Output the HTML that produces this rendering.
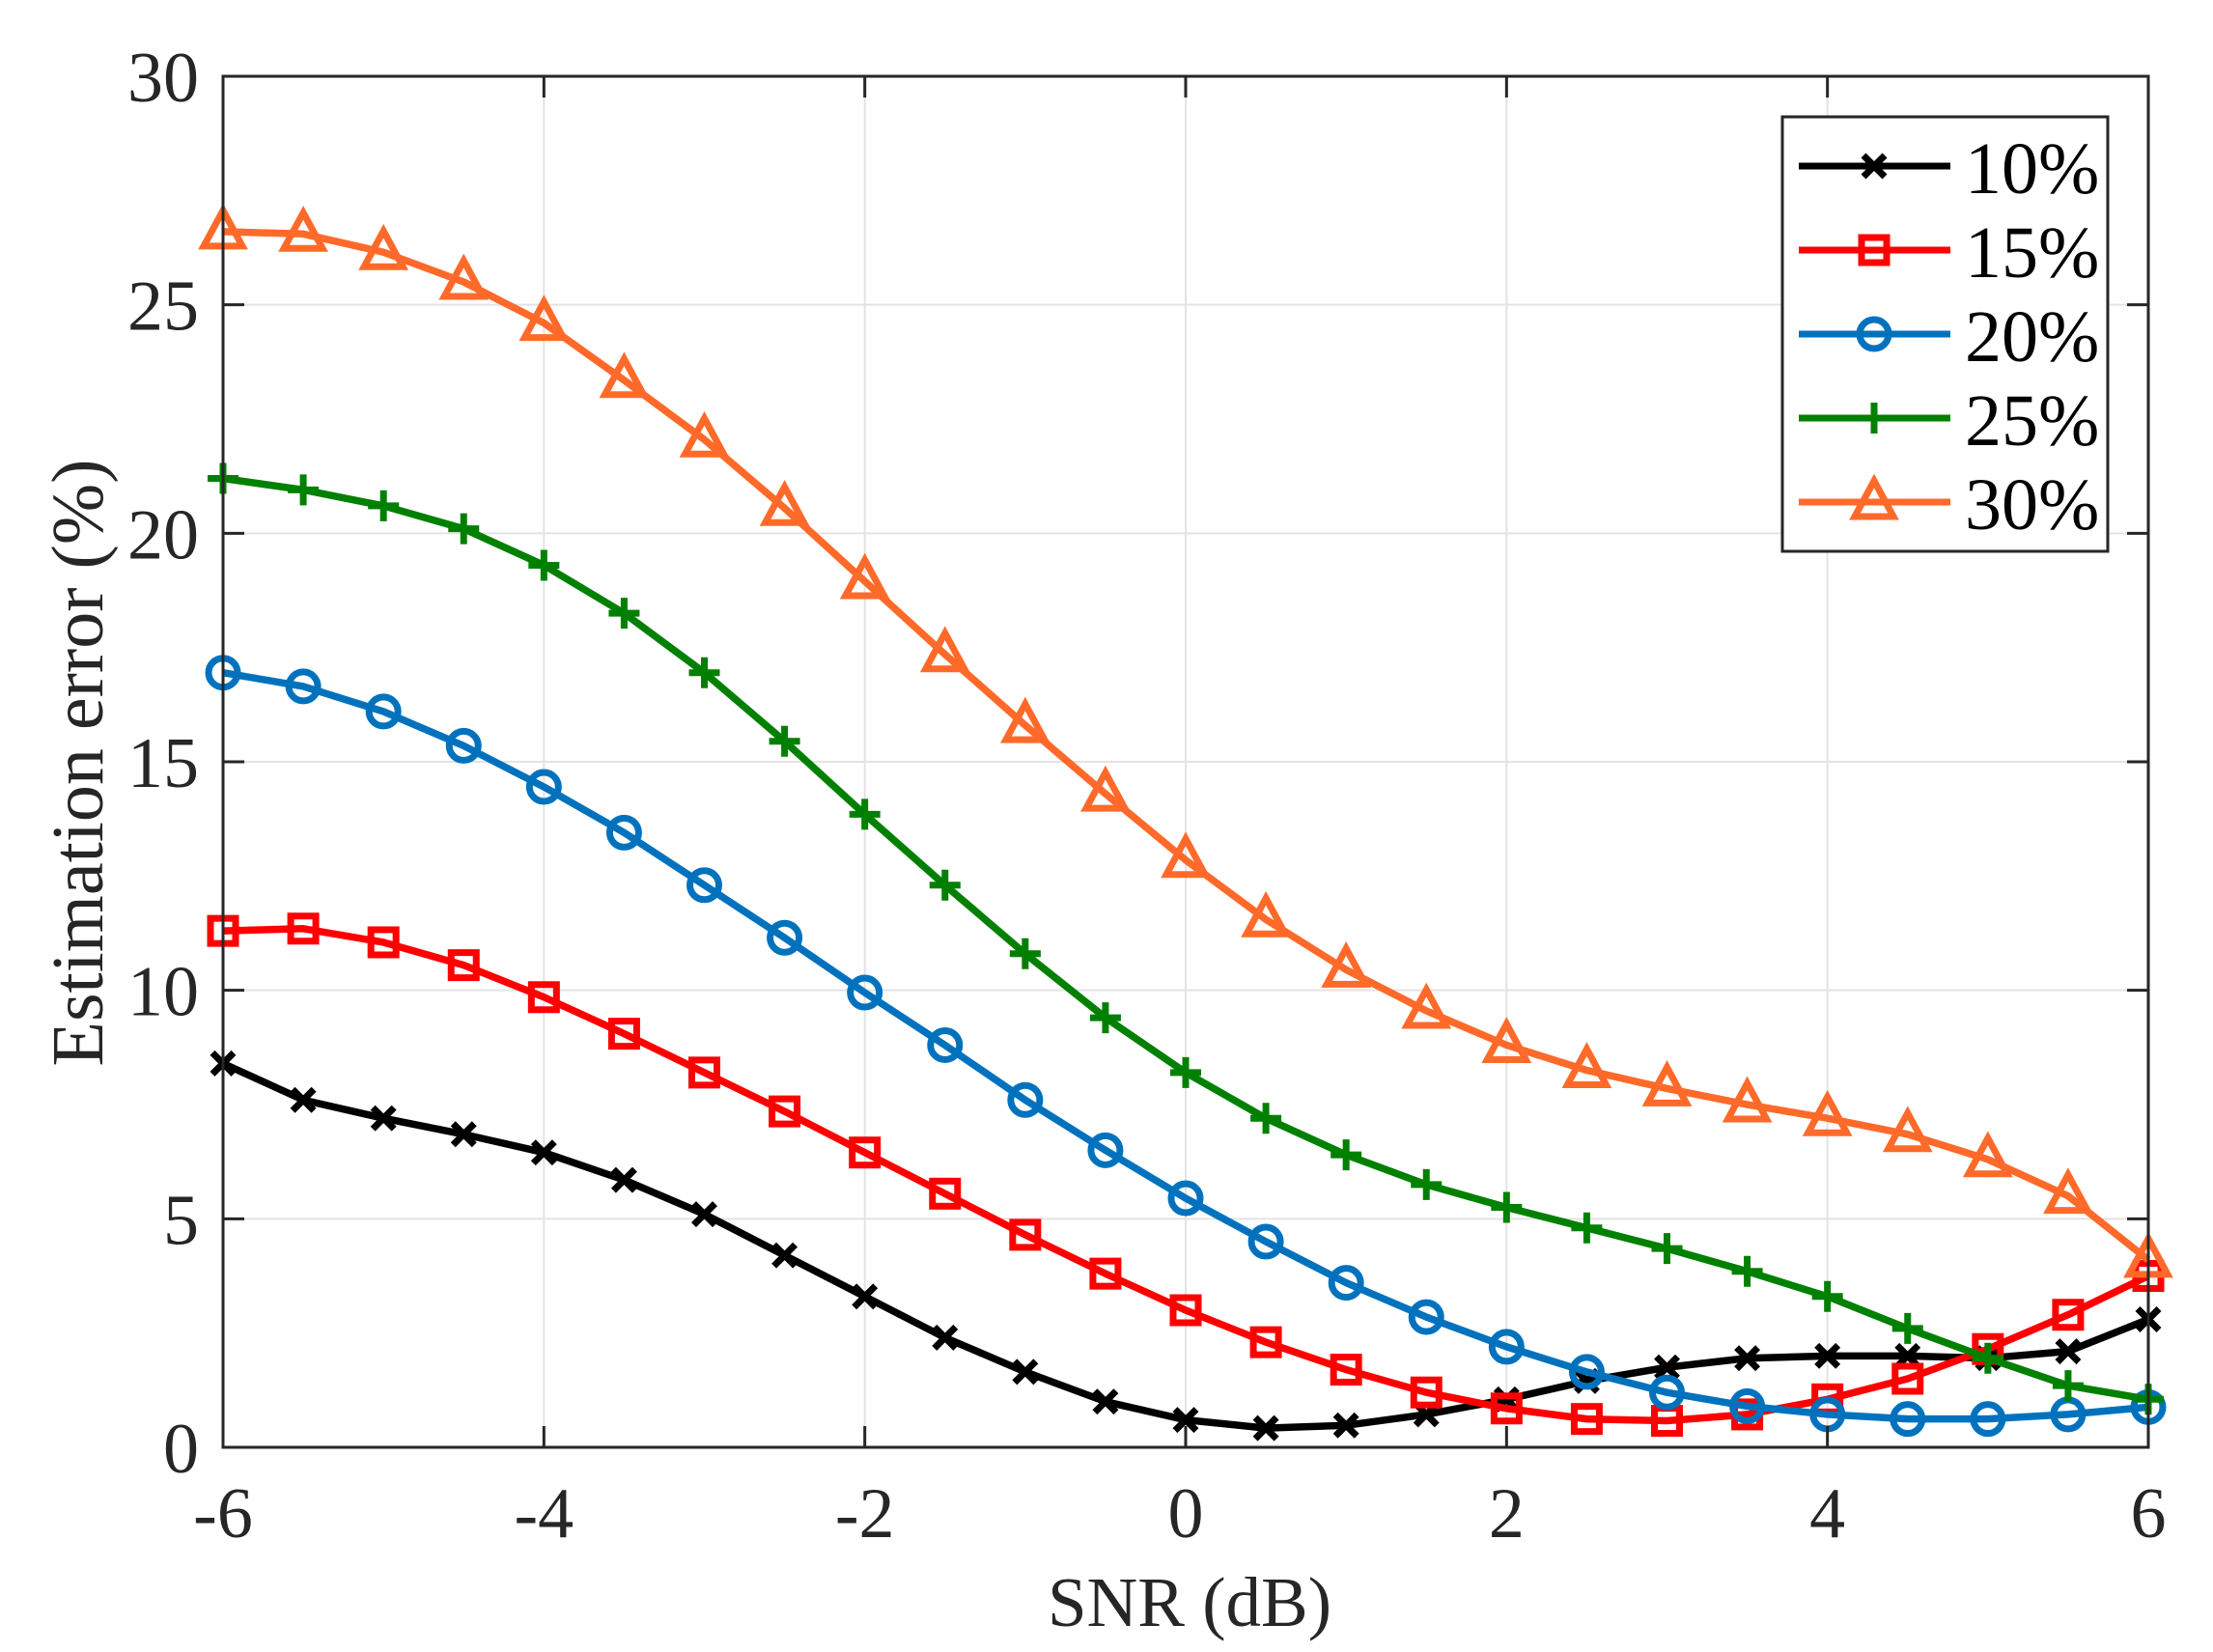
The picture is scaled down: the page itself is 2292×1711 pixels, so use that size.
<!DOCTYPE html>
<html><head><meta charset="utf-8"><style>
html,body{margin:0;padding:0;background:#fff;}
svg{display:block;font-family:"Liberation Serif",serif;}
</style></head><body>
<svg id="chart" width="2292" height="1711" viewBox="0 0 2292 1711" xmlns="http://www.w3.org/2000/svg">
<rect x="0" y="0" width="2292" height="1711" fill="#fff"/>
<g id="grid"></g>
<g id="series"></g>
<g id="axes"></g>
<text transform="translate(106,790) rotate(-90)" text-anchor="middle" font-size="76" fill="#262626">Estimation error (%)</text>
<text x="1232" y="1684" text-anchor="middle" font-size="73" fill="#262626">SNR (dB)</text>
<g id="legend"></g>
</svg>
<script>
const xValues = [-6,-5.5,-5,-4.5,-4,-3.5,-3,-2.5,-2,-1.5,-1,-0.5,0,0.5,1,1.5,2,2.5,3,3.5,4,4.5,5,5.5,6];
const s10 = [8.4,7.6,7.2,6.85,6.45,5.85,5.1,4.2,3.3,2.4,1.65,1.0,0.6,0.42,0.48,0.72,1.05,1.45,1.75,1.95,2.0,2.0,1.95,2.1,2.8];
const s15 = [11.3,11.35,11.05,10.55,9.85,9.05,8.2,7.35,6.45,5.55,4.65,3.8,3.0,2.3,1.7,1.2,0.85,0.62,0.58,0.72,1.05,1.5,2.15,2.9,3.75];
const s20 = [16.95,16.65,16.1,15.35,14.45,13.45,12.3,11.15,9.95,8.8,7.6,6.5,5.45,4.5,3.6,2.85,2.2,1.65,1.2,0.9,0.72,0.62,0.62,0.72,0.88];
const s25 = [21.2,20.95,20.6,20.1,19.3,18.25,16.95,15.45,13.85,12.3,10.8,9.4,8.2,7.2,6.4,5.75,5.25,4.8,4.35,3.85,3.3,2.6,1.95,1.35,1.05];
const s30 = [26.6,26.55,26.15,25.5,24.6,23.35,22.05,20.55,18.95,17.35,15.8,14.3,12.85,11.55,10.45,9.55,8.8,8.25,7.85,7.5,7.2,6.85,6.3,5.5,4.1];
const seriesLabels = ["10%","15%","20%","25%","30%"];
const xTicks = [-6,-4,-2,0,2,4,6];
const yTicks = [0,5,10,15,20,25,30];

const NS="http://www.w3.org/2000/svg";
const L=231,R=2225,T=79,B=1499;
const xS=v=>L+(v+6)/12*(R-L);
const yS=v=>B-v/30*(B-T);
function mk(tag,attrs,parent){const e=document.createElementNS(NS,tag);for(const k in attrs)e.setAttribute(k,attrs[k]);parent.appendChild(e);return e;}
const grid=document.getElementById('grid'),axes=document.getElementById('axes'),sg=document.getElementById('series'),lg=document.getElementById('legend');
xTicks.forEach(t=>{
  const x=xS(t);
  const g=mk('line',{x1:x,x2:x,y1:T,y2:B,stroke:'#e3e3e3','stroke-width':2},grid);
  
  
  const tk=mk('line',{x1:x,x2:x,y1:B,y2:B-22,stroke:'#262626','stroke-width':3},axes);
  
  
  const tk2=mk('line',{x1:x,x2:x,y1:T,y2:T+22,stroke:'#262626','stroke-width':3},axes);
  
  
  const tx=mk('text',{x:x,y:1592,'text-anchor':'middle','font-size':74,fill:'#262626'},axes);
  tx.textContent=String(t);
  
  
});
yTicks.forEach(t=>{
  const y=yS(t);
  const g=mk('line',{x1:L,x2:R,y1:y,y2:y,stroke:'#e3e3e3','stroke-width':2},grid);
  
  
  const tk=mk('line',{x1:L,x2:L+22,y1:y,y2:y,stroke:'#262626','stroke-width':3},axes);
  
  
  const tk2=mk('line',{x1:R,x2:R-22,y1:y,y2:y,stroke:'#262626','stroke-width':3},axes);
  
  
  const tx=mk('text',{x:206,y:y+26,'text-anchor':'end','font-size':74,fill:'#262626'},axes);
  tx.textContent=String(t);
  
  
});
const frame=mk('rect',{x:L,y:T,width:R-L,height:B-T,fill:'none',stroke:'#262626','stroke-width':3},axes);



const colors=['#000000','#ff0000','#0072bd','#008000','#ff6a2a'];
const kinds=['x','square','circle','plus','triangle'];
const allSeries=[s10,s15,s20,s25,s30];
function marker(kind,x,y,c,parent){
  const a={fill:'none',stroke:c,'stroke-width':7};
  let e;
  if(kind==='x'){e=mk('path',Object.assign({d:`M${x-11} ${y-11}L${x+11} ${y+11}M${x-11} ${y+11}L${x+11} ${y-11}`},a),parent);}
  else if(kind==='square'){e=mk('rect',Object.assign({x:x-13,y:y-13,width:26,height:26},a),parent);}
  else if(kind==='circle'){e=mk('circle',Object.assign({cx:x,cy:y,r:15},a),parent);}
  else if(kind==='plus'){e=mk('path',Object.assign({d:`M${x-16} ${y}L${x+16} ${y}M${x} ${y-16}L${x} ${y+16}`},a),parent);}
  else {e=mk('path',Object.assign({d:`M${x} ${y-22}L${x+20} ${y+15}L${x-20} ${y+15}Z`},a),parent);}
  return e;
}
allSeries.forEach((s,i)=>{
  const g=mk('g',{},sg);
  
  
  const pts=s.map((v,j)=>xS(xValues[j])+','+yS(v)).join(' ');
  const pl=mk('polyline',{points:pts,fill:'none',stroke:colors[i],'stroke-width':7.5,'stroke-linejoin':'round'},g);
  
  
  s.forEach((v,j)=>{
    const m=marker(kinds[i],xS(xValues[j]),yS(v),colors[i],g);
    
    
  });
});
// legend
const box=mk('rect',{x:1846,y:121,width:337,height:450,fill:'#fff',stroke:'#262626','stroke-width':3},lg);


seriesLabels.forEach((lab,i)=>{
  const y=172+i*87;
  const g=mk('g',{},lg);
  
  
  mk('line',{x1:1863,x2:2020,y1:y,y2:y,stroke:colors[i],'stroke-width':7},g);
  marker(kinds[i],1941,y,colors[i],g);
  const t=mk('text',{x:2035,y:y+28,'font-size':76,fill:'#000'},g);
  t.textContent=lab;
});
</script>
</body></html>
